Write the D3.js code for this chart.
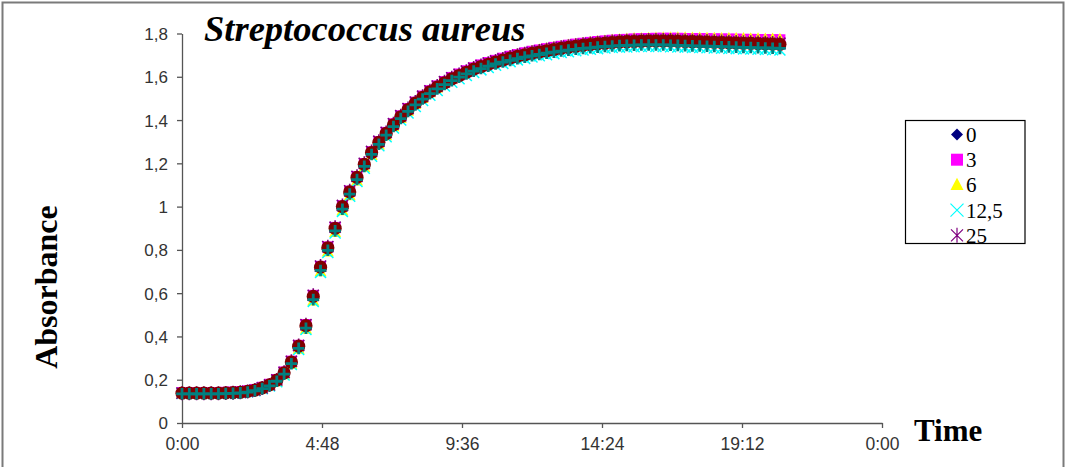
<!DOCTYPE html>
<html><head><meta charset="utf-8">
<script src="https://cdn.jsdelivr.net/npm/d3@7"></script>
<style>body{margin:0;background:#fff}svg{display:block}</style>
</head><body><svg id="c" width="1068" height="467"></svg>
<script>
// ---- data ----
const minutes = [
0,15,30,45,60,75,90,105,120,135,
150,165,180,195,210,225,240,255,270,285,
300,315,330,345,360,375,390,405,420,435,
450,465,480,495,510,525,540,555,570,585,
600,615,630,645,660,675,690,705,720,735,
750,765,780,795,810,825,840,855,870,885,
900,915,930,945,960,975,990,1005,1020,1035,
1050,1065,1080,1095,1110,1125,1140,1155,1170,1185,
1200,1215,1230];
const xTickValues = [0,288,576,864,1152,1440];
const xTickLabels = ["0:00","4:48","9:36","14:24","19:12","0:00"];
const yTickValues = [0,0.2,0.4,0.6,0.8,1,1.2,1.4,1.6,1.8];
const yTickLabels = ["0","0,2","0,4","0,6","0,8","1","1,2","1,4","1,6","1,8"];
const seriesNames = ["0","3","6","12,5","25","50","100"];
const legendNames = ["0","3","6","12,5","25"];
const s0 = [
0.139,0.139,0.139,0.139,0.139,0.139,0.140,0.141,0.143,0.147,
0.153,0.163,0.177,0.198,0.230,0.279,0.350,0.444,0.578,0.712,
0.803,0.893,0.993,1.062,1.129,1.190,1.245,1.293,1.335,1.375,
1.412,1.445,1.475,1.502,1.527,1.549,1.569,1.587,1.603,1.618,
1.632,1.644,1.655,1.665,1.674,1.683,1.691,1.698,1.705,1.711,
1.717,1.723,1.728,1.733,1.738,1.742,1.746,1.750,1.753,1.756,
1.759,1.761,1.763,1.764,1.765,1.766,1.766,1.766,1.766,1.765,
1.765,1.764,1.764,1.763,1.762,1.762,1.761,1.760,1.760,1.759,
1.758,1.758,1.757];
const s3 = [
0.141,0.141,0.141,0.141,0.141,0.141,0.142,0.143,0.145,0.149,
0.155,0.165,0.179,0.201,0.236,0.286,0.359,0.455,0.590,0.724,
0.814,0.904,1.004,1.072,1.139,1.199,1.254,1.301,1.343,1.383,
1.420,1.453,1.483,1.511,1.536,1.558,1.578,1.597,1.613,1.628,
1.642,1.655,1.666,1.676,1.686,1.695,1.703,1.711,1.718,1.724,
1.730,1.736,1.741,1.746,1.751,1.755,1.759,1.763,1.766,1.769,
1.771,1.773,1.775,1.776,1.777,1.778,1.778,1.778,1.778,1.777,
1.777,1.776,1.776,1.775,1.775,1.774,1.774,1.773,1.773,1.772,
1.772,1.771,1.771];
const s6 = [
0.137,0.137,0.137,0.137,0.137,0.137,0.138,0.139,0.141,0.144,
0.150,0.159,0.172,0.192,0.224,0.272,0.342,0.435,0.565,0.700,
0.792,0.882,0.982,1.052,1.120,1.182,1.238,1.286,1.329,1.370,
1.408,1.442,1.473,1.501,1.527,1.550,1.571,1.590,1.607,1.623,
1.638,1.651,1.663,1.674,1.684,1.693,1.702,1.710,1.717,1.724,
1.730,1.736,1.741,1.746,1.751,1.755,1.759,1.763,1.766,1.769,
1.772,1.774,1.776,1.777,1.778,1.779,1.780,1.780,1.780,1.780,
1.779,1.779,1.778,1.778,1.777,1.777,1.776,1.776,1.775,1.775,
1.774,1.774,1.773];
const s12 = [
0.136,0.136,0.136,0.136,0.136,0.136,0.137,0.138,0.140,0.143,
0.149,0.158,0.171,0.191,0.222,0.270,0.340,0.432,0.562,0.696,
0.788,0.878,0.978,1.048,1.116,1.177,1.233,1.281,1.323,1.363,
1.400,1.433,1.463,1.490,1.515,1.537,1.557,1.575,1.591,1.606,
1.620,1.632,1.643,1.653,1.662,1.670,1.678,1.685,1.691,1.697,
1.702,1.707,1.712,1.716,1.720,1.724,1.727,1.730,1.733,1.735,
1.737,1.738,1.739,1.740,1.740,1.740,1.740,1.739,1.738,1.737,
1.736,1.735,1.734,1.733,1.732,1.731,1.730,1.729,1.728,1.727,
1.726,1.725,1.724];
const s25 = [
0.138,0.138,0.138,0.138,0.138,0.138,0.139,0.140,0.142,0.146,
0.152,0.162,0.176,0.199,0.234,0.285,0.358,0.454,0.590,0.725,
0.815,0.905,1.005,1.073,1.140,1.200,1.255,1.302,1.343,1.383,
1.420,1.453,1.483,1.510,1.535,1.557,1.577,1.595,1.611,1.626,
1.640,1.652,1.663,1.673,1.682,1.691,1.699,1.706,1.713,1.719,
1.725,1.731,1.736,1.741,1.746,1.750,1.754,1.757,1.760,1.763,
1.765,1.767,1.768,1.769,1.770,1.770,1.770,1.770,1.769,1.768,
1.767,1.766,1.765,1.764,1.763,1.762,1.761,1.760,1.759,1.758,
1.757,1.756,1.755];
const s50 = [
0.138,0.138,0.138,0.138,0.138,0.138,0.139,0.140,0.142,0.146,
0.152,0.162,0.176,0.198,0.232,0.282,0.355,0.450,0.585,0.720,
0.810,0.900,1.000,1.068,1.135,1.195,1.250,1.297,1.338,1.378,
1.415,1.448,1.478,1.505,1.530,1.552,1.572,1.590,1.606,1.621,
1.635,1.647,1.658,1.668,1.677,1.686,1.694,1.701,1.708,1.714,
1.720,1.726,1.731,1.736,1.741,1.745,1.749,1.752,1.755,1.758,
1.760,1.762,1.763,1.764,1.765,1.765,1.765,1.765,1.764,1.763,
1.762,1.761,1.760,1.759,1.758,1.757,1.756,1.755,1.754,1.753,
1.752,1.751,1.750];
const s100 = [
0.135,0.135,0.135,0.135,0.135,0.135,0.136,0.137,0.139,0.143,
0.149,0.159,0.172,0.193,0.226,0.274,0.345,0.438,0.570,0.705,
0.798,0.888,0.988,1.058,1.125,1.186,1.241,1.288,1.330,1.370,
1.407,1.440,1.470,1.497,1.522,1.544,1.564,1.582,1.598,1.613,
1.626,1.638,1.649,1.659,1.668,1.676,1.684,1.691,1.697,1.703,
1.709,1.714,1.719,1.723,1.727,1.731,1.734,1.737,1.740,1.742,
1.744,1.745,1.746,1.747,1.747,1.747,1.747,1.746,1.745,1.744,
1.743,1.742,1.741,1.740,1.739,1.738,1.737,1.736,1.735,1.734,
1.733,1.732,1.731];
const seriesValues = [s0,s3,s6,s12,s25,s50,s100];

// ---- styles ----
const markerStyles = [
  {shape:"diamond", fill:"#000080"},
  {shape:"square", fill:"#FF00FF"},
  {shape:"triangle", fill:"#FFFF00"},
  {shape:"x", stroke:"#00FFFF"},
  {shape:"star", stroke:"#800080"},
  {shape:"circle", fill:"#800000"},
  {shape:"plus", stroke:"#008080"}
];
function markerPath(shape, s){
  switch(shape){
    case "diamond": return `M0,${-s}L${s},0L0,${s}L${-s},0Z`;
    case "square": return `M${-s},${-s}H${s}V${s}H${-s}Z`;
    case "triangle": return `M0,${-s*1.1}L${s},${s*0.8}L${-s},${s*0.8}Z`;
    case "circle": return `M${-s},0A${s},${s} 0 1,0 ${s},0A${s},${s} 0 1,0 ${-s},0Z`;
    case "x": return `M${-s},${-s}L${s},${s}M${-s},${s}L${s},${-s}`;
    case "plus": return `M${-s},0H${s}M0,${-s}V${s}`;
    case "star": return `M${-s},${-s}L${s},${s}M${-s},${s}L${s},${-s}M0,${-s*1.25}V${s*1.25}`;
  }
}
const plotSizes = {diamond:6.2, square:5.5, triangle:6, circle:6.6, x:5.5, plus:5.8, star:5.6};
const strokeW = {x:1.5, plus:2.8, star:1.6};

const svg = d3.select("#c");
// outer frame
svg.append("rect").attr("x",2.5).attr("y",2.5).attr("width",1061).attr("height",520)
  .attr("fill","none").attr("stroke","#7a7a7a").attr("stroke-width",2);

const x = d3.scaleLinear().domain([0,1440]).range([182,882]);
const y = d3.scaleLinear().domain([0,1.8]).range([423,33.5]);

const axisColor = "#555";
const gx = svg.append("g").attr("transform","translate(0,423)")
  .call(d3.axisBottom(x).tickValues(xTickValues).tickFormat((d,i)=>xTickLabels[i]).tickSize(5).tickSizeOuter(0));
const gy = svg.append("g").attr("transform","translate(182,0)")
  .call(d3.axisLeft(y).tickValues(yTickValues).tickFormat((d,i)=>yTickLabels[i]).tickSize(5).tickSizeOuter(0));
[gx,gy].forEach(g=>{
  g.selectAll("path,line").attr("stroke",axisColor).attr("stroke-width",1.3);
  g.selectAll("text").attr("fill","#333").attr("font-family","'Liberation Sans',Arial,sans-serif").attr("font-size",17);
});
gx.selectAll("text").attr("font-size",17.5).attr("dy","1.1em");
gy.selectAll("text").attr("dx","-6").attr("dy","0.35em");

// series markers
const plot = svg.append("g");
seriesValues.forEach((vals,si)=>{
  const st = markerStyles[si];
  const n = Math.min(vals.length, minutes.length);
  const pts = d3.range(n).map(i=>[minutes[i], vals[i]]);
  plot.append("g").selectAll("path").data(pts).join("path")
    .attr("transform",d=>`translate(${x(d[0])},${y(d[1])})`)
    .attr("d",markerPath(st.shape, plotSizes[st.shape]))
    .attr("fill",st.fill||"none")
    .attr("stroke",st.stroke||"none")
    .attr("stroke-width",strokeW[st.shape]||0);
});

// title and axis titles
const serif = "'Liberation Serif','Times New Roman',serif";
svg.append("text").attr("x",204).attr("y",41)
  .attr("font-family",serif).attr("font-weight","bold").attr("font-style","italic")
  .attr("font-size",36.5).attr("fill","#000").text("Streptococcus aureus");
svg.append("text").attr("transform","translate(57,287) rotate(-90)").attr("text-anchor","middle")
  .attr("font-family",serif).attr("font-weight","bold")
  .attr("font-size",32).attr("fill","#000").text("Absorbance");
svg.append("text").attr("x",914).attr("y",441)
  .attr("font-family",serif).attr("font-weight","bold")
  .attr("font-size",31).attr("fill","#000").text("Time");

// legend
const lg = svg.append("g");
lg.append("rect").attr("x",905.5).attr("y",120.5).attr("width",119.5).attr("height",123)
  .attr("fill","#fff").attr("stroke","#000").attr("stroke-width",1.2);
const legSizes = {diamond:6, square:6, triangle:6.5, circle:6, x:6.5, plus:6, star:6};
const legStroke = {x:1.2, plus:2, star:1.2};
legendNames.forEach((name,i)=>{
  const st = markerStyles[i];
  const cy = 134.5 + i*25.2;
  lg.append("path").attr("transform",`translate(957,${cy})`)
    .attr("d",markerPath(st.shape, legSizes[st.shape]))
    .attr("fill",st.fill||"none").attr("stroke",st.stroke||"none").attr("stroke-width",legStroke[st.shape]||0);
  lg.append("text").attr("x",966).attr("y",cy+7.5)
    .attr("font-family",serif).attr("font-size",21).attr("fill","#000").text(name);
});
</script></body></html>
